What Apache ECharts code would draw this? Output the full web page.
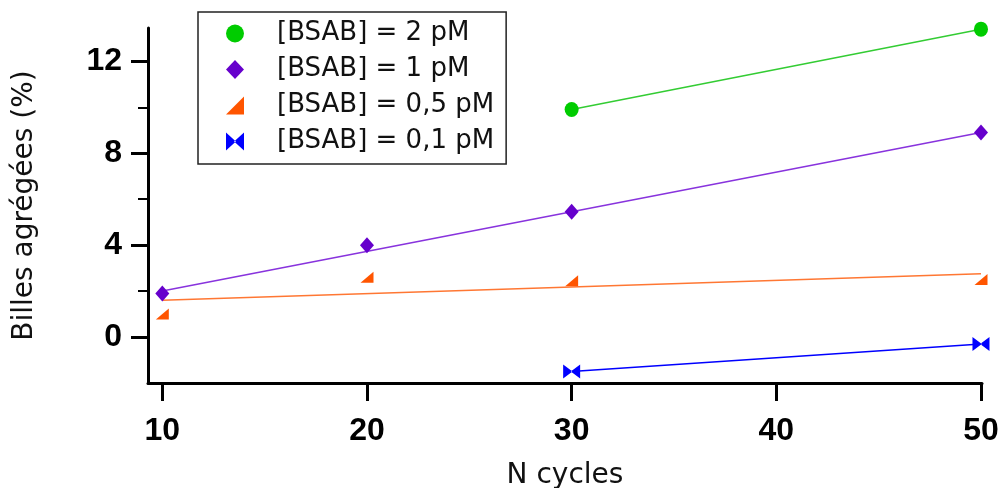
<!DOCTYPE html>
<html>
<head>
<meta charset="utf-8">
<script src="https://cdn.jsdelivr.net/npm/echarts@6/dist/echarts.min.js"></script>
<style>html,body{margin:0;padding:0;background:#fff;overflow:hidden}#c{width:1001px;height:488px}</style>
</head>
<body>
<div id="c"></div>
<script>
const xTicks = [10, 20, 30, 40, 50];
const yTicks = [0, 4, 8, 12];
const yMinorTicks = [2, 6, 10];
const seriesNames = ['[BSAB] = 2 pM', '[BSAB] = 1 pM', '[BSAB] = 0,5 pM', '[BSAB] = 0,1 pM'];

const x2pM = [30, 50];
const y2pM = [9.9, 13.4];
const x1pM = [10, 20, 30, 50];
const y1pM = [1.9, 4.0, 5.45, 8.9];
const x05pM = [10, 20, 30, 50];
const y05pM = [1.0, 2.6, 2.45, 2.5];
const x01pM = [30, 50];
const y01pM = [-1.5, -0.3];

// fitted line end points
const fitX2pM = [30, 50];  const fitY2pM = [9.9, 13.4];
const fitX1pM = [10, 50];  const fitY1pM = [2.0, 8.9];
const fitX05pM = [10, 50]; const fitY05pM = [1.6, 2.75];
const fitX01pM = [30, 50]; const fitY01pM = [-1.5, -0.3];

const zip = (xs, ys) => xs.map((x, i) => [x, ys[i]]);

const markerColors = ['#00cc00', '#6600cc', '#ff5500', '#0000ff'];
const lineColors = ['#33cc33', '#8833dd', '#ff7733', '#0000ff'];
const symbols = [
  'circle',
  'diamond',
  'path://M0,10 L10,0 L10,10 Z',
  'path://M0,0 L11,10 L0,20 Z M20,0 L9,10 L20,20 Z'
];
const symbolSizes = [[14, 15], [14, 16], [13, 11], [17, 14]];
const pts = [zip(x2pM, y2pM), zip(x1pM, y1pM), zip(x05pM, y05pM), zip(x01pM, y01pM)];
const fits = [zip(fitX2pM, fitY2pM), zip(fitX1pM, fitY1pM), zip(fitX05pM, fitY05pM), zip(fitX01pM, fitY01pM)];

const series = [];
fits.forEach((d, i) => {
  series.push({
    type: 'line', data: d, showSymbol: false, symbol: 'none', silent: true,
    lineStyle: { color: lineColors[i], width: 1.5 }, z: 2
  });
});
pts.forEach((d, i) => {
  series.push({
    name: seriesNames[i], type: 'scatter', data: d,
    symbol: symbols[i], symbolSize: symbolSizes[i],
    itemStyle: { color: markerColors[i], opacity: 1 }, z: 3
  });
});

const chart = echarts.init(document.getElementById('c'), null, { renderer: 'canvas' });
chart.setOption({
  animation: false,
  backgroundColor: '#fff',
  grid: { left: 148, right: 19, top: 28, bottom: 105, containLabel: false, outerBoundsMode: 'none' },
  legend: {
    data: seriesNames,
    orient: 'vertical',
    left: 198, top: 12,
    padding: [8.5, 12, 9.5, 28],
    itemGap: 10,
    itemWidth: 18, itemHeight: 19,
    borderColor: '#222', borderWidth: 1.5, backgroundColor: '#fff',
    formatter: '{a|{name}}',
    textStyle: {
      rich: { a: { fontFamily: 'DejaVu Sans', fontSize: 26, lineHeight: 27, color: '#111', padding: [0, 0, 0, 28] } }
    }
  },
  xAxis: {
    type: 'value', min: 9.3, max: 50.05,
    name: 'N cycles', nameLocation: 'middle', nameGap: 79,
    nameTextStyle: { fontFamily: 'DejaVu Sans', fontSize: 28, color: '#111' },
    axisLine: { show: true, onZero: false, lineStyle: { color: '#000', width: 3 } },
    axisTick: { show: true, length: 18, lineStyle: { color: '#000', width: 3 }, customValues: xTicks },
    axisLabel: { customValues: xTicks, margin: 32, fontFamily: 'Liberation Sans', fontWeight: 'bold', fontSize: 32, color: '#000' },
    splitLine: { show: false }
  },
  yAxis: [{
    type: 'value', min: -2, max: 13.45,
    name: 'Billes agrégées (%)', nameLocation: 'middle', nameGap: 109, nameRotate: 90,
    nameTextStyle: { fontFamily: 'DejaVu Sans', fontSize: 28, color: '#111' },
    axisLine: { show: true, onZero: false, lineStyle: { color: '#000', width: 3 } },
    axisTick: { show: true, length: 17, lineStyle: { color: '#000', width: 3 }, customValues: yTicks },
    axisLabel: { customValues: yTicks, margin: 26, fontFamily: 'Liberation Sans', fontWeight: 'bold', fontSize: 32, color: '#000' },
    splitLine: { show: false }
  }, {
    type: 'value', min: -2, max: 13.45, position: 'left', offset: 0,
    axisLine: { show: false },
    axisTick: { show: true, length: 10, lineStyle: { color: '#000', width: 2 }, customValues: yMinorTicks },
    axisLabel: { show: false },
    splitLine: { show: false }
  }],
  series: series
});
</script>
</body>
</html>
